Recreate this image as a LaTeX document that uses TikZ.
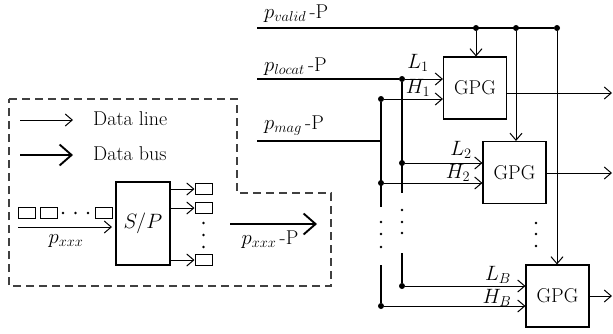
\documentclass[tikz,border=0pt]{standalone}
\usepackage{amsmath}
\usepackage{tikz}
\usetikzlibrary{arrows.meta}

\begin{document}
\begin{tikzpicture}[x=1pt,y=-1pt,every node/.style={font=\fontsize{20}{24}\selectfont, inner sep=0pt}]

	\tikzset{dline/.style = {-{Straight Barb[length=7pt,width=12pt]}, line width=1pt}}
	\tikzset{dbus/.style = {-{Straight Barb[length=12pt,width=21pt]}, line width=1.9pt}}
	\tikzset{bus/.style = {line width=1.9pt}}
	\tikzset{gpg/.style = {draw, line width=1.1pt, minimum width=63pt, minimum height=62pt}}
	\tikzset{cell/.style = {draw, line width=1pt, minimum width=17pt, minimum height=11pt}}
	\tikzset{junc/.style = {circle, fill=black, minimum size=6pt}}
	
	\useasboundingbox (0,0) rectangle (613,333);
	
	% GPG blocks
	\node[gpg] (g1)  at (475,88)    {GPG};
	\node[gpg] (g2)  at (514.5,172.5) {GPG};
	\node[gpg] (g3)  at (557.5,296) {GPG};
	
	% valid bus
	\coordinate (v0) at (257,28);
	\node[junc] (v1)  at (476,28) {};
	\node[junc] (v2)  at (516,28) {};
	\node[junc] (v3)  at (557,28) {};
	\node[anchor=west] (tv)  at (264,14) {$p_{valid}$\,-P};
	
	% locat bus
	\coordinate (l0) at (257,79);
	\node[junc] (l1)  at (402,79)  {};
	\node[junc] (l2)  at (402,163) {};
	\node[junc] (lb)  at (402,286) {};
	\coordinate (lt) at (402,193);
	\coordinate (lu) at (402,253);
	\node[anchor=west] (tl)  at (264,67) {$p_{locat}$\,-P};
	
	% mag bus
	\coordinate (m0) at (257,141);
	\coordinate (m1) at (381,141);
	\node[junc] (h1)  at (381,99)  {};
	\node[junc] (h2)  at (381,183) {};
	\node[junc] (hb)  at (381,306) {};
	\coordinate (ht) at (381,207);
	\coordinate (hu) at (381,265);
	\node[anchor=west] (tm)  at (264,126) {$p_{mag}$\,-P};
	
	% outputs
	\coordinate (o1) at (612,93);
	\coordinate (o2) at (612,173);
	\coordinate (o3) at (612,296);
	
	\draw[bus] (v0) -- (v3);
	\draw[bus] (l0) -- (l1) -- (lt);
	\draw[bus] (lu) -- (lb);
	\draw[bus] (m0) -- (m1);
	\draw[bus] (h1) -- (ht);
	\draw[bus] (hu) -- (hb);
	
	\foreach \source/\dest in {v1/g1,v2/g2,v3/g3}
	\draw[dline] (\source) -- (\source |- \dest.north);
	
	\foreach \source/\dest in {l1/g1,l2/g2,lb/g3}
	\draw[dline] (\source) -- (\source -| \dest.west);
	
	\foreach \source/\dest in {h1/g1,h2/g2,hb/g3}
	\draw[dline] (\source) -- (\source -| \dest.west);
	
	\foreach \source/\dest in {g1/o1,g2/o2,g3/o3}
	\draw[dline] (\source.east |- \dest) -- (\dest);
	
	\node (tl1)  at (418,63)  {$L_1$};
	\node (th1)  at (418,88)  {$H_1$};
	\node (tl2)  at (461,150) {$L_2$};
	\node (th2)  at (458,173) {$H_2$};
	\node (tlb)  at (498,275) {$L_B$};
	\node (thb)  at (497,298) {$H_B$};
	
	% vertical dots
	\foreach \y in {210,222,233} \fill (402,\y) circle (1.4);
	\foreach \y in {222,234,247} \fill (381,\y) circle (1.4);
	\foreach \y in {223,234,246} \fill (536,\y) circle (1.4);
	
	% legend and S/P
	\draw[dashed, dash pattern=on 8pt off 5pt, line width=1.2pt, black!75]
	(9,99) -- (237,99) -- (237,193) -- (331,193) -- (331,286) -- (9,286) -- cycle;
	
	\coordinate (a1) at (20,120);
	\coordinate (a2) at (73,120);
	\coordinate (b1) at (20,155);
	\coordinate (b2) at (73,155);
	\draw[dline] (a1) -- (a2);
	\draw[dbus] (b1) -- (b2);
	\node[anchor=west] (tdl)  at (93,119) {Data line};
	\node[anchor=west] (tdb)  at (93,154) {Data bus};
	
	\node[draw, line width=1.1pt, minimum width=54pt, minimum height=83pt] (sp) at (143,223.5) {$S/P$};
	
	\node[cell] (c1)  at (27,212.5)  {};
	\node[cell] (c2)  at (49,212.5)  {};
	\node[cell] (c3)  at (103.5,212.5) {};
	\foreach \x in {63,75.5,88} \fill (\x,213) circle (1.4);
	
	\coordinate (i0) at (18,227);
	\coordinate (i1) at (112,227);
	\draw[dline] (i0) -- (i1);
	\node (tpx)  at (66,241) {$p_{xxx}$};
	
	\node[cell] (q1)  at (203.5,189) {};
	\node[cell] (q2)  at (203.5,208) {};
	\node[cell] (q3)  at (203.5,260) {};
	\foreach \dest in {q1,q2,q3}
	\draw[dline] (sp.east |- \dest) -- (\dest.west);
	\foreach \y in {223,235,247} \fill (203.5,\y) circle (1.4);
	
	\coordinate (p0) at (230,224);
	\coordinate (p1) at (317,224);
	\draw[dbus] (p0) -- (p1);
	\node (tpp)  at (270,240) {$p_{xxx}$\,-P};
	
\end{tikzpicture}
\end{document}
